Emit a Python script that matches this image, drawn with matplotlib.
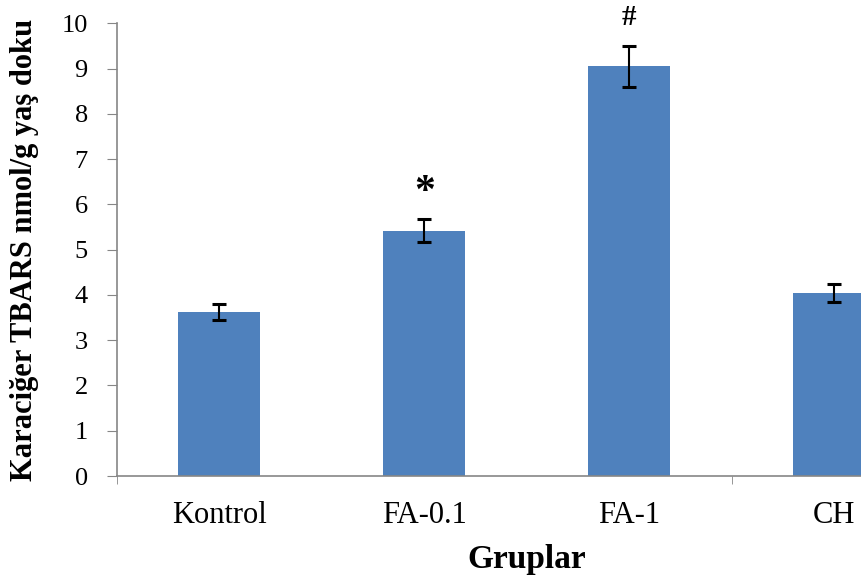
import matplotlib.pyplot as plt

# data
groups = ['Kontrol', 'FA-0.1', 'FA-1', 'CH']
tbars = [3.63, 5.42, 9.05, 4.05]
errors = [0.18, 0.26, 0.45, 0.20]
marks = ['', '*', '#', '']
mark_y = [0, 6.25, 10.12, 0]

plt.rcParams['font.family'] = ['Liberation Serif', 'DejaVu Serif']

fig = plt.figure(figsize=(8.62, 5.76), dpi=100)
# axis runs past the right edge, as in the original
ax = fig.add_axes([0.1357, 0.1736, 0.951, 0.786])

x = range(len(groups))
ax.bar(x, tbars, width=0.4, color='#4F81BD', zorder=2)
ax.errorbar(x, tbars, yerr=errors, fmt='none', ecolor='black',
            elinewidth=1.5, capsize=5, capthick=2.2, zorder=3)

ax.text(1, mark_y[1], marks[1], ha='center', va='center',
        fontsize=30, fontweight='bold')
ax.text(2, mark_y[2], marks[2], ha='center', va='center',
        fontsize=21, fontweight='bold', clip_on=False)

ax.set_xlim(-0.5, 3.5)
ax.set_ylim(0, 10)
ax.set_yticks(range(0, 11))
ax.set_xticks(x)
ax.set_xticklabels(groups, fontsize=22)
ax.tick_params(axis='y', labelsize=19, color='#868686', length=7, pad=14)
ax.tick_params(axis='x', length=0, pad=18)
# boundary ticks (only a couple visible in the original)
ax.set_xticks([-0.5, 2.5], minor=True)
ax.tick_params(axis='x', which='minor', length=6, color='#868686')

for s in ['top', 'right']:
    ax.spines[s].set_visible(False)
for s in ['left', 'bottom']:
    ax.spines[s].set_color('#868686')
    ax.spines[s].set_linewidth(1.2)

ax.set_ylabel('Karaciğer TBARS nmol/g yaş doku', fontsize=22,
              fontweight='bold', labelpad=16)
ax.set_xlabel('Gruplar', fontsize=24, fontweight='bold', labelpad=10)

fig.savefig('out.png', dpi=100)
